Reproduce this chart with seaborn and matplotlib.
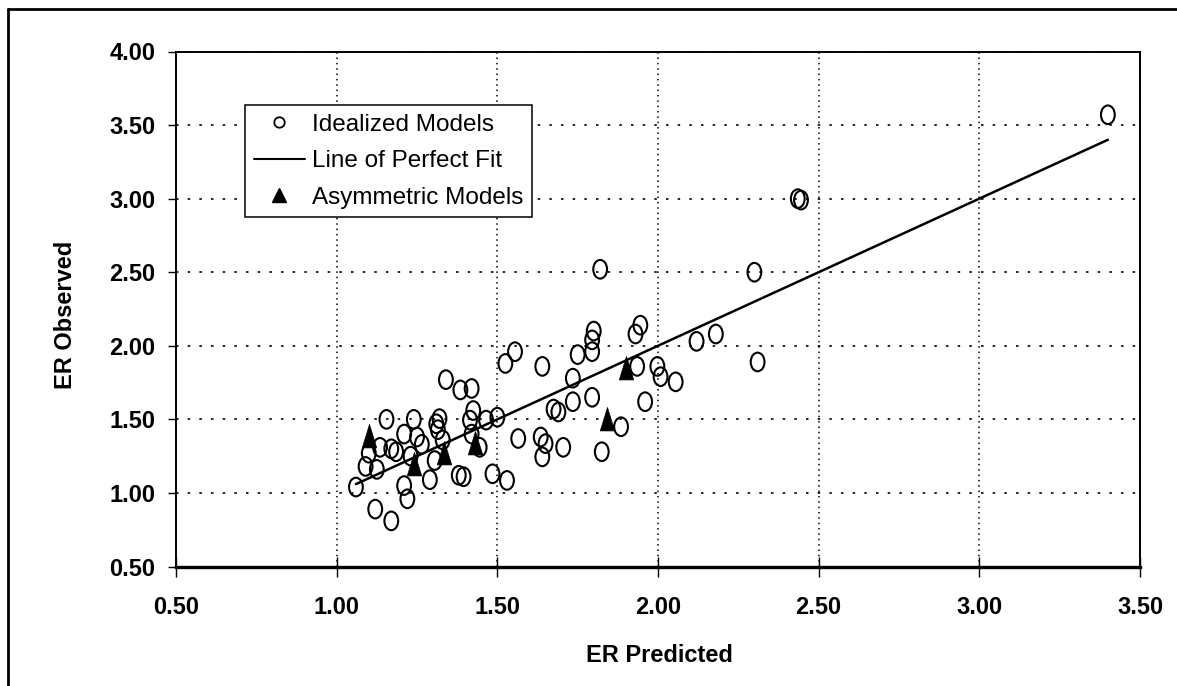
import numpy as np
import matplotlib
matplotlib.use("Agg")
import matplotlib.pyplot as plt
import matplotlib.transforms as mtrans
from matplotlib.path import Path
from matplotlib.lines import Line2D
import seaborn as sns

# ---------------- data ----------------
ideal_pred = [1.06, 1.12, 1.17, 1.21, 1.22, 1.09, 1.10, 1.125, 1.135, 1.155,
              1.17, 1.185, 1.21, 1.24, 1.25, 1.265, 1.23, 1.29, 1.305, 1.31,
              1.32, 1.315, 1.33, 1.34, 1.38, 1.395, 1.385, 1.42, 1.425, 1.415,
              1.42, 1.445, 1.465, 1.50, 1.485, 1.53, 1.565, 1.525, 1.555, 1.64,
              1.635, 1.65, 1.64, 1.675, 1.69, 1.705, 1.735, 1.735, 1.75, 1.80,
              1.795, 1.795, 1.795, 1.825, 1.82, 1.885, 1.945, 1.93, 1.935, 1.96,
              1.998, 2.008, 2.055, 2.12, 2.18, 2.31, 2.30, 2.435, 2.445, 3.40]
ideal_obs = [1.04, 0.89, 0.81, 1.05, 0.96, 1.18, 1.27, 1.16, 1.31, 1.50,
             1.30, 1.28, 1.40, 1.50, 1.38, 1.33, 1.25, 1.09, 1.22, 1.47,
             1.505, 1.43, 1.36, 1.77, 1.12, 1.11, 1.70, 1.71, 1.56, 1.495,
             1.40, 1.31, 1.495, 1.515, 1.13, 1.085, 1.37, 1.88, 1.96, 1.86,
             1.38, 1.335, 1.245, 1.57, 1.55, 1.31, 1.78, 1.62, 1.94, 2.10,
             2.04, 1.96, 1.65, 1.28, 2.52, 1.45, 2.14, 2.08, 1.86, 1.62,
             1.86, 1.79, 1.755, 2.03, 2.08, 1.89, 2.50, 3.00, 2.99, 3.57]
asym_pred = [1.10, 1.24, 1.335, 1.43, 1.84, 1.90]
asym_obs = [1.39, 1.20, 1.27, 1.34, 1.50, 1.85]
fit_x = [1.06, 3.40]
fit_y = [1.06, 3.40]
x_ticks = [0.50, 1.00, 1.50, 2.00, 2.50, 3.00, 3.50]
y_ticks = [0.50, 1.00, 1.50, 2.00, 2.50, 3.00, 3.50, 4.00]
labels = ["Idealized Models", "Line of Perfect Fit", "Asymmetric Models"]

# ---------------- style ----------------
sns.set_style("white")
plt.rcParams['font.family'] = ['Liberation Sans', 'DejaVu Sans']
plt.rcParams.update({'text.color': 'black', 'axes.labelcolor': 'black',
                     'xtick.color': 'black', 'ytick.color': 'black'})

W, H = 1177, 686
fig = plt.figure(figsize=(W / 100, H / 100), dpi=100)
left, right, top, bottom = 176, 1140, 51.5, 566.5
ax = fig.add_axes([left / W, 1 - bottom / H, (right - left) / W, (bottom - top) / H])

ell = Path.unit_circle().transformed(mtrans.Affine2D().scale(0.74, 1.0))
tri = Path([(0, 1), (-0.6, -0.95), (0.6, -0.95), (0, 1)],
           [Path.MOVETO, Path.LINETO, Path.LINETO, Path.CLOSEPOLY])

sns.scatterplot(x=ideal_pred, y=ideal_obs, marker=ell, s=180, color='black',
                facecolor='none', edgecolor='black', linewidth=1.5, ax=ax,
                legend=False, zorder=3)
sns.lineplot(x=fit_x, y=fit_y, color='black', linewidth=1.8, ax=ax,
             legend=False, zorder=4)
sns.scatterplot(x=asym_pred, y=asym_obs, marker=tri, s=300, color='black',
                edgecolor='black', linewidth=0.5, ax=ax, legend=False, zorder=5)

ax.set_xlim(0.5, 3.5)
ax.set_ylim(0.5, 4.0)
ax.set_xticks(x_ticks)
ax.set_yticks(y_ticks)
ax.set_xticklabels([f"{v:.2f}" for v in x_ticks])
ax.set_yticklabels([f"{v:.2f}" for v in y_ticks])
for lab in ax.get_xticklabels() + ax.get_yticklabels():
    lab.set_fontweight('bold')
    lab.set_fontsize(17)
    lab.set_color('black')

ax.xaxis.grid(True, color='black', linestyle=(0, (1, 2.5)), linewidth=1.1)
ax.yaxis.grid(True, color='black', linestyle=(0, (1.5, 5.5)), linewidth=1.2)
ax.set_axisbelow(True)

for name, sp in ax.spines.items():
    sp.set_visible(True)
    sp.set_color('black')
    sp.set_linewidth(1.4)
ax.spines['bottom'].set_linewidth(2.4)

ax.tick_params(axis='x', direction='inout', length=14, width=1.0, pad=14,
               colors='black', bottom=True)
ax.tick_params(axis='y', direction='out', length=6, width=1.0, pad=9,
               colors='black', left=True)

ax.set_xlabel("ER Predicted", fontsize=17, fontweight='bold', color='black')
ax.set_ylabel("ER Observed", fontsize=17, fontweight='bold', color='black')
ax.xaxis.set_label_coords(0.502, -0.150)
ax.yaxis.set_label_coords(-0.103, 0.488)

handles = [
    Line2D([], [], marker='o', linestyle='none', markersize=7.5,
           markerfacecolor='none', markeredgecolor='black', markeredgewidth=1.3),
    Line2D([], [], color='black', linewidth=1.5),
    Line2D([], [], marker='^', linestyle='none', markersize=10,
           markerfacecolor='black', markeredgecolor='black'),
]
leg = ax.legend(handles, labels, loc='upper left',
                bbox_to_anchor=((245 - left) / (right - left), (bottom - 105) / (bottom - top)),
                frameon=True, fancybox=False, framealpha=1, edgecolor='black',
                fontsize=17.5, handlelength=2.1, handletextpad=0.3,
                labelspacing=0.6, borderpad=0.35, borderaxespad=0)
leg.get_frame().set_linewidth(1.1)
for t in leg.get_texts():
    t.set_color('black')

# scanned-page border (top and left)
fig.add_artist(Line2D([8 / W, 1], [1 - 9 / H, 1 - 9 / H], transform=fig.transFigure,
                      color='black', linewidth=2))
fig.add_artist(Line2D([8 / W, 8 / W], [0, 1 - 9 / H], transform=fig.transFigure,
                      color='black', linewidth=2))

fig.savefig("out.png", dpi=100, facecolor='white')
